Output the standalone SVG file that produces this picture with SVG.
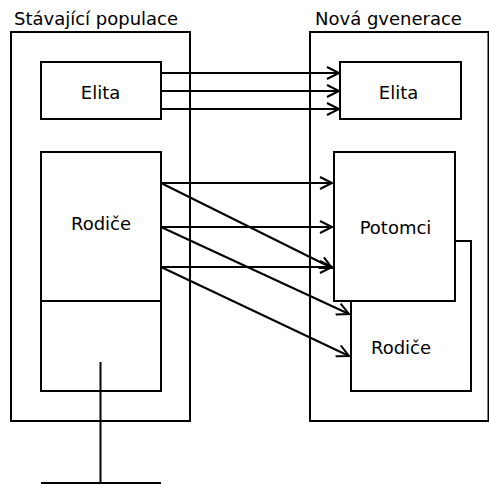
<svg xmlns="http://www.w3.org/2000/svg" width="489" height="485" viewBox="0 0 489 485">
<style>
.box{fill:#fff;stroke:#000;stroke-width:2}
.lbl{font-family:"DejaVu Sans",sans-serif;font-size:18px;fill:#000}
.c{text-anchor:middle}
.arr{stroke:#000;stroke-width:2;fill:none;marker-end:url(#ah)}
.ln{stroke:#000;stroke-width:2;fill:none}
</style>
<defs>
<marker id="ah" markerUnits="userSpaceOnUse" markerWidth="16" markerHeight="14" refX="13" refY="7" orient="auto">
<path d="M1,1 L13,7 L1,13" fill="none" stroke="#000" stroke-width="2"/>
</marker>
</defs>
<rect width="489" height="485" fill="#fff"/>
<g id="old-pop">
<rect class="box" x="11" y="32" width="179" height="389"/>
<text class="lbl" x="14" y="25">Stávající populace</text>
</g>
<g id="new-gen">
<rect class="box" x="310" y="32" width="178.5" height="389"/>
<text class="lbl" x="315" y="25">Nová gvenerace</text>
</g>
<g id="old-elita">
<rect class="box" x="41" y="62" width="120" height="57"/>
<text class="lbl c" x="100.5" y="99">Elita</text>
</g>
<g id="old-rodice">
<rect class="box" x="41" y="152" width="120" height="149"/>
<rect class="box" x="41" y="301" width="120" height="90"/>
<text class="lbl c" x="101" y="230">Rodiče</text>
</g>
<g id="new-elita">
<rect class="box" x="340" y="62" width="121" height="57"/>
<text class="lbl c" x="398.5" y="99">Elita</text>
</g>
<g id="new-rodice">
<rect class="box" x="351" y="241" width="120" height="150"/>
<text class="lbl c" x="401" y="354">Rodiče</text>
</g>
<g id="potomci">
<rect class="box" x="334" y="152" width="121" height="149"/>
<text class="lbl c" x="395.5" y="234">Potomci</text>
</g>
<g id="selector">
<path class="ln" d="M100.5,362 V483"/>
<path class="ln" d="M41,483 H161" stroke-width="3"/>
</g>
<g id="connectors">
<path class="arr" d="M161,73 H339"/>
<path class="arr" d="M161,91 H339"/>
<path class="arr" d="M161,109 H339"/>
<path class="arr" d="M161,183 H332"/>
<path class="arr" d="M161,227 H332"/>
<path class="arr" d="M161,267 H332"/>
<path class="arr" d="M161,183 L332,268"/>
<path class="arr" d="M161,227 L349,314"/>
<path class="arr" d="M161,267 L349,356"/>
</g>
</svg>
